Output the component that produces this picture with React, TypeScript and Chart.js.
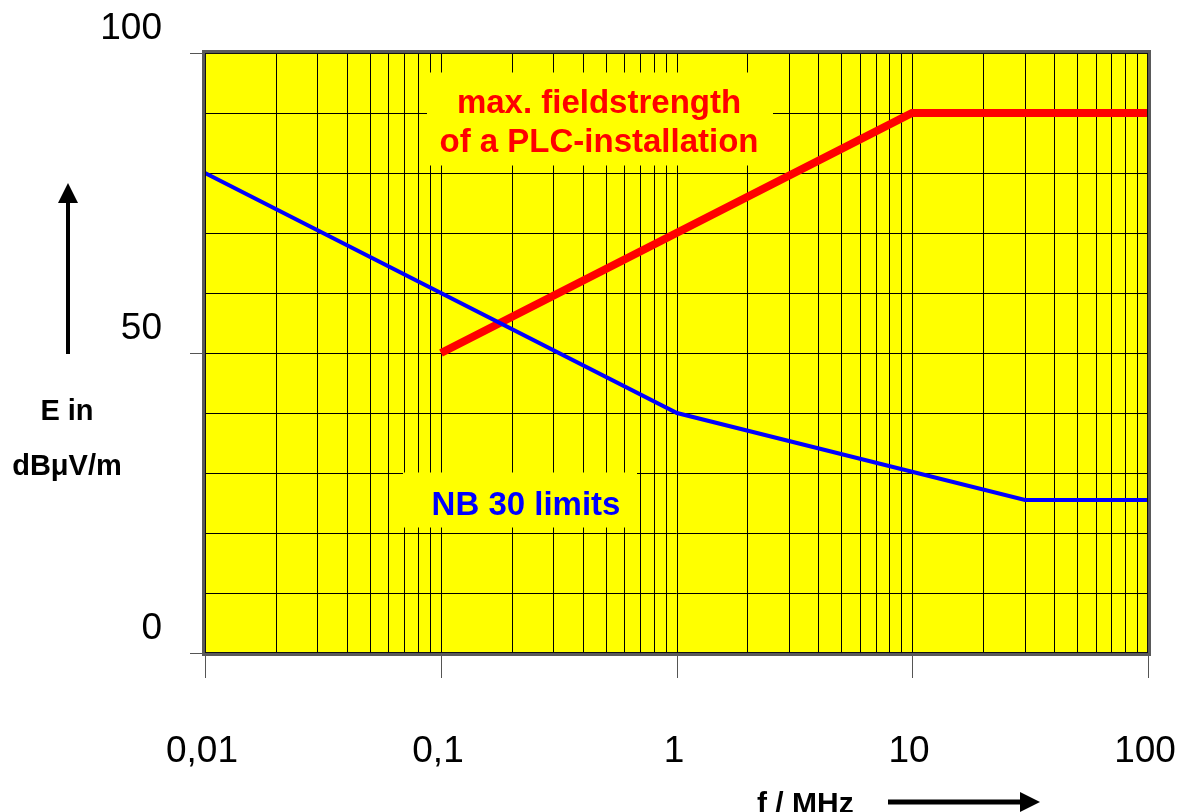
import React, { useEffect, useRef } from 'react';
import { Chart, registerables } from 'chart.js';

Chart.register(...registerables);

// ---- data ----
const nbFreq = [0.01, 1, 30, 100];
const nbLimit = [80, 40, 25.5, 25.5];
const plcFreq = [0.1, 10, 100];
const plcLimit = [50, 90, 90];

const xDecades = [0.01, 0.1, 1, 10, 100];
const xDecadeLabels = ['0,01', '0,1', '1', '10', '100'];
const xMultipliers = [1, 2, 3, 4, 5, 6, 7, 8, 9];
const yLabelValues = [0, 50, 100];
const yLabels = ['0', '50', '100'];

const plcText = ['max. fieldstrength', 'of a PLC-installation'];
const nbText = 'NB 30 limits';
const xTitle = 'f / MHz';
const yTitle = ['E in', 'dB\u03bcV/m'];

// annotation anchors (data coordinates of label box centres)
const plcBox = { x: 0.4737, y: 89.08, w: 346, h: 93 };
const nbBox = { x: 0.2169, y: 25.42, w: 234, h: 55 };

const FONT = '"Liberation Sans", Arial, Helvetica, sans-serif';

const xTickValues: number[] = [];
xDecades.forEach((d, i) => {
  if (i === xDecades.length - 1) {
    xTickValues.push(d);
  } else {
    xMultipliers.forEach((m) => xTickValues.push(+(d * m).toPrecision(6)));
  }
});

const decadeIndex = (v: number) => xDecades.findIndex((d) => Math.abs(v - d) / d < 1e-6);
const yLabelIndex = (v: number) => yLabelValues.indexOf(v);

const decorPlugin = {
  id: 'decor',
  beforeDraw(chart: any) {
    const { ctx, chartArea: a } = chart;
    ctx.save();
    ctx.fillStyle = '#ffff00';
    ctx.fillRect(a.left, a.top, a.right - a.left, a.bottom - a.top);
    ctx.restore();
  },
  beforeDatasetsDraw(chart: any) {
    const { ctx, scales } = chart;
    const x = scales.x;
    const y = scales.y;
    ctx.save();
    // PLC label
    let cx = x.getPixelForValue(plcBox.x);
    let cy = y.getPixelForValue(plcBox.y);
    ctx.fillStyle = '#ffff00';
    ctx.fillRect(cx - plcBox.w / 2, cy - plcBox.h / 2, plcBox.w, plcBox.h);
    ctx.fillStyle = '#ff0000';
    ctx.font = `bold 33px ${FONT}`;
    ctx.textAlign = 'center';
    ctx.textBaseline = 'alphabetic';
    ctx.fillText(plcText[0], cx - 1, cy - 6.5);
    ctx.fillText(plcText[1], cx - 1, cy + 32.5);
    // NB30 label
    cx = x.getPixelForValue(nbBox.x);
    cy = y.getPixelForValue(nbBox.y);
    ctx.fillStyle = '#ffff00';
    ctx.fillRect(cx - nbBox.w / 2, cy - nbBox.h / 2, nbBox.w, nbBox.h);
    ctx.fillStyle = '#0000ff';
    ctx.fillText(nbText, cx + 6, cy + 14.5);
    ctx.restore();
  },
  afterDatasetsDraw(chart: any) {
    const { ctx, chartArea: a } = chart;
    ctx.save();
    ctx.strokeStyle = '#5a5a5a';
    ctx.lineWidth = 4;
    ctx.strokeRect(a.left - 1, a.top - 1, a.right - a.left + 2, a.bottom - a.top + 2);
    ctx.strokeStyle = '#111';
    ctx.lineWidth = 1;
    ctx.strokeRect(a.left + 0.5, a.top + 0.5, a.right - a.left - 1, a.bottom - a.top - 1);
    ctx.restore();
  },
  afterDraw(chart: any) {
    const { ctx } = chart;
    ctx.save();
    ctx.fillStyle = '#000';
    ctx.strokeStyle = '#000';
    ctx.font = `bold 29px ${FONT}`;
    ctx.textAlign = 'center';
    ctx.textBaseline = 'alphabetic';
    // y title
    ctx.fillText(yTitle[0], 67, 420);
    ctx.fillText(yTitle[1], 67, 475);
    // y arrow
    ctx.lineWidth = 4;
    ctx.beginPath();
    ctx.moveTo(68, 354);
    ctx.lineTo(68, 200);
    ctx.stroke();
    ctx.beginPath();
    ctx.moveTo(68, 183);
    ctx.lineTo(78, 203);
    ctx.lineTo(58, 203);
    ctx.closePath();
    ctx.fill();
    // x title
    ctx.font = `bold 30px ${FONT}`;
    ctx.textAlign = 'left';
    ctx.fillText(xTitle, 757, 813);
    // x arrow
    ctx.lineWidth = 5;
    ctx.beginPath();
    ctx.moveTo(888, 802);
    ctx.lineTo(1024, 802);
    ctx.stroke();
    ctx.beginPath();
    ctx.moveTo(1040, 802);
    ctx.lineTo(1020, 792);
    ctx.lineTo(1020, 812);
    ctx.closePath();
    ctx.fill();
    ctx.restore();
  },
};

export default function App() {
  const canvasRef = useRef<HTMLCanvasElement | null>(null);

  useEffect(() => {
    const canvas = canvasRef.current;
    if (!canvas) return;
    const chart = new Chart(canvas, {
      type: 'line',
      data: {
        datasets: [
          {
            label: 'NB 30 limits',
            data: nbFreq.map((f, i) => ({ x: f, y: nbLimit[i] })),
            borderColor: '#0000ff',
            borderWidth: 4,
            pointRadius: 0,
            tension: 0,
            fill: false,
          },
          {
            label: 'max. fieldstrength of a PLC-installation',
            data: plcFreq.map((f, i) => ({ x: f, y: plcLimit[i] })),
            borderColor: '#ff0000',
            borderWidth: 8,
            borderJoinStyle: 'miter',
            borderCapStyle: 'butt',
            pointRadius: 0,
            tension: 0,
            fill: false,
          },
        ],
      },
      options: {
        responsive: false,
        animation: false,
        devicePixelRatio: 1,
        events: [],
        layout: { padding: { top: 53, right: 40, bottom: 0, left: 0 } },
        plugins: {
          legend: { display: false },
          tooltip: { enabled: false },
          title: { display: false },
        },
        scales: {
          x: {
            type: 'logarithmic',
            min: 0.01,
            max: 100,
            alignToPixels: true,
            afterBuildTicks: (scale: any) => {
              scale.ticks = xTickValues.map((v) => ({ value: v }));
            },
            afterFit: (scale: any) => {
              scale.height = 812 - 653;
              scale.paddingLeft = 0;
              scale.paddingRight = 0;
            },
            border: { display: false },
            grid: {
              color: '#000',
              lineWidth: 1,
              drawOnChartArea: true,
              drawTicks: true,
              tickLength: 25,
              tickWidth: 1,
              tickColor: (c: any) => (c.tick && decadeIndex(c.tick.value) >= 0 ? '#555' : 'rgba(0,0,0,0)'),
            },
            ticks: {
              autoSkip: false,
              maxRotation: 0,
              minRotation: 0,
              padding: 52,
              labelOffset: -3,
              color: '#000',
              font: { family: FONT, size: 37 },
              callback: (v: any) => {
                const i = decadeIndex(Number(v));
                return i >= 0 ? xDecadeLabels[i] : '';
              },
            },
          },
          y: {
            type: 'linear',
            min: 0,
            max: 100,
            alignToPixels: true,
            afterFit: (scale: any) => {
              scale.width = 205;
              scale.paddingTop = 0;
              scale.paddingBottom = 0;
            },
            border: { display: false },
            grid: {
              color: '#000',
              lineWidth: 1,
              drawTicks: true,
              tickLength: 15,
              tickWidth: 1,
              tickColor: (c: any) => (c.tick && yLabelIndex(c.tick.value) >= 0 ? '#555' : 'rgba(0,0,0,0)'),
            },
            ticks: {
              stepSize: 10,
              autoSkip: false,
              padding: 28,
              labelOffset: -24,
              color: '#000',
              font: { family: FONT, size: 37 },
              callback: (v: any) => {
                const i = yLabelIndex(Number(v));
                return i >= 0 ? yLabels[i] : '';
              },
            },
          },
        },
      },
      plugins: [decorPlugin],
    } as any);
    return () => chart.destroy();
  }, []);

  return (
    <div style={{ position: 'absolute', left: 0, top: 0, width: 1188, height: 812, background: '#fff' }}>
      <canvas ref={canvasRef} width={1188} height={812} style={{ width: 1188, height: 812, display: 'block' }} />
    </div>
  );
}
